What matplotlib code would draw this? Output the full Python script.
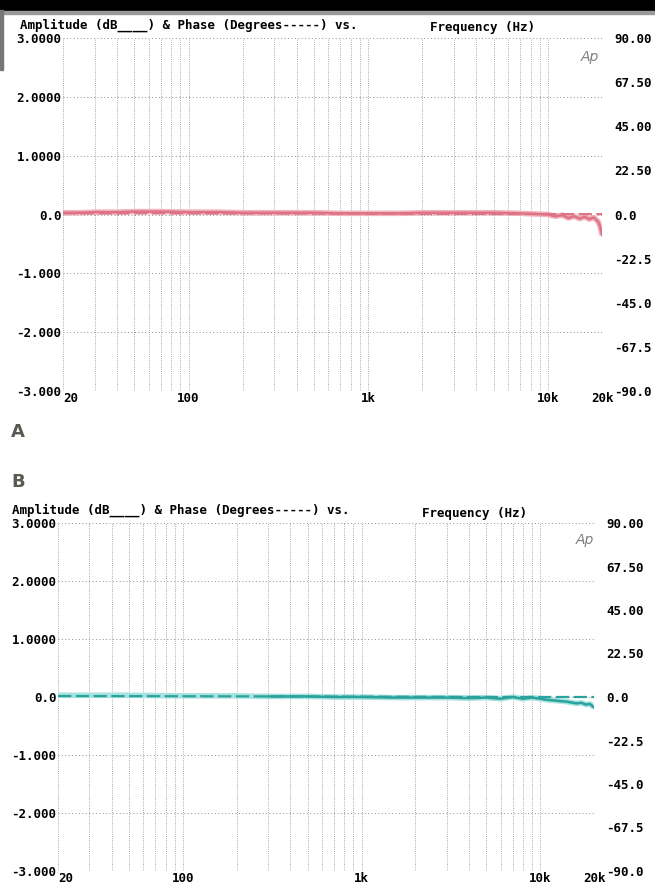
import numpy as np
import matplotlib.pyplot as plt
from matplotlib.patches import Rectangle

freq_a = [20, 25, 30, 40, 50, 70, 100, 150, 200, 300, 500, 700, 1000, 1500,
          2000, 3000, 5000, 7000, 10000, 11000, 12000, 13000, 14000, 15000,
          16000, 17000, 18000, 19000, 19500, 20000]
amp_a = [0.03, 0.03, 0.04, 0.04, 0.05, 0.05, 0.04, 0.04, 0.03, 0.03, 0.03,
         0.02, 0.02, 0.02, 0.03, 0.03, 0.03, 0.02, 0.0, -0.03, -0.01, -0.06,
         -0.03, -0.07, -0.04, -0.08, -0.05, -0.12, -0.2, -0.35]
phase_freq_a = [20, 100, 1000, 5000, 10000, 15000, 20000]
phase_a = [0.6, 0.6, 0.4, 0.3, 0.2, 0.2, 0.2]

freq_b = [20, 30, 50, 100, 200, 300, 500, 700, 1000, 1500, 2000, 3000, 4000,
          5000, 6000, 7000, 8000, 9000, 10000, 11000, 12000, 14000, 16000,
          17000, 18000, 19000, 20000]
amp_b = [0.03, 0.03, 0.03, 0.02, 0.02, 0.01, 0.01, 0.0, 0.0, -0.01, -0.01,
         -0.01, -0.02, -0.01, -0.03, 0.0, -0.03, -0.01, -0.03, -0.05, -0.06,
         -0.08, -0.11, -0.1, -0.13, -0.12, -0.18]
phase_freq_b = [20, 100, 1000, 5000, 10000, 15000, 20000]
phase_b = [0.5, 0.4, 0.2, 0.0, 0.0, 0.0, 0.0]

amp_ticks = [3, 2, 1, 0, -1, -2, -3]
amp_labels = ["3.0000", "2.0000", "1.0000", "0.0", "-1.000", "-2.000", "-3.000"]
phase_ticks = [90, 67.5, 45, 22.5, 0, -22.5, -45, -67.5, -90]
phase_labels = ["90.00", "67.50", "45.00", "22.50", "0.0", "-22.5", "-45.0",
                "-67.5", "-90.0"]
freq_ticks = [20, 100, 1000, 10000, 20000]
freq_labels = ["20", "100", "1k", "10k", "20k"]
title_left = "Amplitude (dB____) & Phase (Degrees-----) vs."
title_right = "Frequency (Hz)"

W, H = 655, 885
MONO = {"family": "DejaVu Sans Mono", "weight": "bold", "size": 9}
GRID = "#8f8f8f"


def fx(px):
    return px / W


def fy(py):
    return 1 - py / H


def draw_panel(fig, box, freq, amp, pfreq, phase, under, main, dark_from,
               title_xy, logo_xy):
    x0, x1, y0, y1 = box
    ax = fig.add_axes([fx(x0), fy(y1), fx(x1 - x0), (y1 - y0) / H])
    ax.set_xscale("log")
    ax.set_xlim(20, 20000)
    ax.set_ylim(-3, 3)

    # dotted grid, log minor positions plus every dB line
    vlines = [m * 10 ** d for d in range(1, 5) for m in range(1, 10)]
    vlines = [v for v in vlines if 20 <= v <= 20000]
    for v in vlines:
        ax.axvline(v, color=GRID, lw=0.6, ls=(0, (1, 1.6)), zorder=1)
    for t in amp_ticks:
        ax.axhline(t, color=GRID, lw=0.7, ls=(0, (1, 2.5)), zorder=1)

    for s in ax.spines.values():
        s.set_visible(False)

    ax.set_yticks(amp_ticks)
    ax.set_yticklabels(amp_labels, fontdict=MONO)
    ax.tick_params(axis="y", length=0, pad=1)
    ax.set_xticks(freq_ticks)
    ax.set_xticklabels(freq_labels, fontdict=MONO)
    ax.xaxis.set_minor_locator(plt.NullLocator())
    ax.tick_params(axis="x", length=0, pad=1)
    ax.get_xticklabels()[0].set_horizontalalignment("left")

    ax2 = ax.twinx()
    ax2.set_ylim(-90, 90)
    ax2.set_yticks(phase_ticks)
    ax2.set_yticklabels(phase_labels, fontdict=MONO)
    ax2.tick_params(axis="y", length=0, pad=9)
    for s in ax2.spines.values():
        s.set_visible(False)

    # traces: pale wide trace, darker core where the pen pressed harder
    f = np.array(freq)
    a = np.array(amp)
    keep = f >= dark_from
    ax.plot(f, a, color=under, lw=4.0, solid_capstyle="butt", zorder=3)
    ax.plot(f[keep], a[keep], color=main, lw=1.8, zorder=4)
    ax2.plot(pfreq, phase, color=main, lw=1.6, ls=(0, (6, 2)), zorder=4)

    fig.text(fx(title_xy[0]), fy(title_xy[1]), title_left, fontdict=MONO,
             va="center", ha="left")
    fig.text(fx(title_xy[0] + 410), fy(title_xy[1] + 3), title_right,
             fontdict=MONO, va="center", ha="left")
    fig.text(fx(logo_xy[0]), fy(logo_xy[1]), "Ap", color="#808080",
             fontsize=10, style="italic", family="DejaVu Sans",
             va="center", ha="center")
    return ax


fig = plt.figure(figsize=(W / 100, H / 100), dpi=100)
fig.patch.set_facecolor("white")

# scanner edge at the top
fig.add_artist(Rectangle((0, fy(10)), 1, 10 / H, transform=fig.transFigure,
                         color="black", zorder=10))
fig.add_artist(Rectangle((0, fy(14)), 1, 3 / H, transform=fig.transFigure,
                         color="#9a9a9a", zorder=10))
fig.add_artist(Rectangle((0, fy(70)), 3 / W, 60 / H, transform=fig.transFigure,
                         color="#777777", zorder=10))

draw_panel(fig, (63, 602, 38, 391), freq_a, amp_a, phase_freq_a, phase_a,
           "#f2b4bd", "#df7386", 20, (20, 25), (590, 57))
draw_panel(fig, (58, 594, 523, 871), freq_b, amp_b, phase_freq_b, phase_b,
           "#a8e2df", "#2aa39e", 300, (12, 510), (585, 540))

fig.text(fx(11), fy(432), "A", fontsize=13, weight="bold", color="#5a5a52",
         family="DejaVu Sans", va="center", ha="left")
fig.text(fx(11), fy(482), "B", fontsize=13, weight="bold", color="#5a5a52",
         family="DejaVu Sans", va="center", ha="left")

fig.savefig("out.png", dpi=100)
